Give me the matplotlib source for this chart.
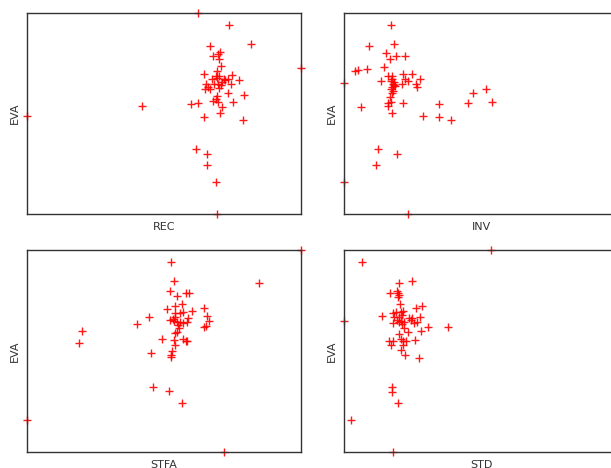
import matplotlib
matplotlib.use("Agg")
import matplotlib.pyplot as plt

# values (arbitrary units, EVA on y)
rec = [2.02, 2.24, 1.83, 1.86, 1.91, 1.93, 1.92, 1.94, 1.90, 1.77, 1.89, 1.92, 2.05, 2.12,
       2.01, 1.98, 1.95, 1.91, 1.87, 2.04, 1.79, 1.81, 1.94, 1.92, 1.78, 1.83, 2.01, 2.17,
       1.90, 1.86, 1.91, 1.89, 2.06, 1.64, 1.71, 1.15, 1.95, 1.93, 1.77, 2.16, 1.69, 1.80,
       1.80, 1.89, 1.97, 1.90, 1.85, 1.71, 2.74, 0.00, 1.90]
eva_rec = [1.89, 1.70, 1.68, 1.58, 1.60, 1.62, 1.55, 1.48, 1.43, 1.40, 1.38, 1.38, 1.39, 1.34,
           1.35, 1.34, 1.32, 1.30, 1.30, 1.30, 1.30, 1.27, 1.29, 1.26, 1.25, 1.25, 1.21, 1.19,
           1.18, 1.13, 1.12, 1.15, 1.12, 1.10, 1.11, 1.08, 1.07, 1.01, 0.97, 0.94, 0.65, 0.60,
           0.49, 0.32, 1.35, 1.36, 1.35, 2.01, 1.46, 0.98, 0.00]

inv = [0.47, 0.50, 0.25, 0.42, 0.52, 0.61, 0.46, 0.40, 0.11, 0.14, 0.23, 0.44, 0.48, 0.48,
       0.50, 0.50, 0.48, 0.47, 0.48, 0.46, 0.47, 0.44, 0.44, 0.59, 0.61, 0.64, 0.68, 0.76,
       0.72, 0.73, 0.58, 0.37, 0.17, 0.59, 0.48, 0.79, 0.95, 0.95, 1.07, 1.24, 1.29, 1.42,
       1.48, 0.34, 0.53, 0.32, 0.49, 0.51, 0.47, 0.49, 0.00, 0.00, 0.64]
eva_inv = [1.89, 1.70, 1.68, 1.61, 1.58, 1.58, 1.55, 1.47, 1.43, 1.44, 1.45, 1.38, 1.38, 1.35,
           1.32, 1.29, 1.27, 1.25, 1.21, 1.17, 1.12, 1.11, 1.08, 1.40, 1.35, 1.33, 1.40, 1.35,
           1.30, 1.27, 1.30, 1.33, 1.07, 1.11, 1.01, 0.98, 1.10, 0.97, 0.94, 1.11, 1.21, 1.25,
           1.12, 0.65, 0.60, 0.49, 1.30, 1.28, 1.33, 1.23, 1.31, 0.32, 0.00]

stfa = [1.44, 2.32, 1.47, 1.43, 1.50, 1.59, 1.62, 1.55, 1.48, 1.40, 1.77, 1.65, 1.48, 1.53,
        1.56, 1.80, 1.82, 1.79, 1.77, 1.22, 1.10, 1.61, 1.43, 1.47, 1.50, 1.53, 1.56, 1.51,
        1.60, 1.48, 1.46, 1.52, 1.50, 1.48, 0.55, 0.52, 1.35, 1.47, 1.56, 1.59, 1.60, 1.48,
        1.24, 1.45, 1.44, 1.44, 1.26, 1.42, 1.55, 2.74, 0.00, 1.97]
eva_stfa = [1.90, 1.69, 1.71, 1.61, 1.56, 1.59, 1.59, 1.48, 1.46, 1.43, 1.44, 1.41, 1.39, 1.39,
            1.40, 1.36, 1.31, 1.26, 1.25, 1.35, 1.28, 1.34, 1.32, 1.31, 1.30, 1.30, 1.29, 1.27,
            1.30, 1.35, 1.33, 1.24, 1.20, 1.19, 1.21, 1.09, 1.13, 1.12, 1.13, 1.11, 1.11, 1.07,
            0.99, 1.01, 0.97, 0.95, 0.65, 0.61, 0.49, 2.02, 0.32, 0.00]

std = [0.18, 0.68, 0.55, 0.46, 0.53, 0.54, 0.55, 0.54, 0.56, 0.72, 0.78, 0.38, 0.49, 0.52,
       0.57, 0.59, 0.50, 0.55, 0.58, 0.53, 0.57, 0.60, 0.49, 0.55, 0.58, 0.65, 0.68, 0.67,
       0.70, 0.73, 0.76, 0.60, 0.64, 0.84, 0.77, 1.04, 0.55, 0.71, 0.45, 0.49, 0.47, 0.57,
       0.59, 0.62, 0.59, 0.57, 0.61, 0.75, 0.48, 0.48, 0.54, 0.07, 1.47, 0.00, 0.49]
eva_std = [1.90, 1.71, 1.69, 1.59, 1.61, 1.59, 1.57, 1.55, 1.48, 1.44, 1.46, 1.36, 1.39, 1.40,
           1.40, 1.41, 1.35, 1.35, 1.37, 1.32, 1.31, 1.30, 1.29, 1.30, 1.28, 1.34, 1.34, 1.32,
           1.29, 1.30, 1.35, 1.24, 1.20, 1.25, 1.21, 1.25, 1.18, 1.12, 1.11, 1.11, 1.07, 1.13,
           1.11, 1.11, 1.07, 1.02, 0.97, 0.94, 0.65, 0.60, 0.49, 0.32, 2.02, 1.31, 0.00]

x_names = ["REC", "INV", "STFA", "STD"]
x_data = [rec, inv, stfa, std]
y_data = [eva_rec, eva_inv, eva_stfa, eva_std]
x_max = 2.74
y_max = [2.01, 2.01, 2.02, 2.02]

fig = plt.figure(figsize=(6.11, 4.68), dpi=100)
W, H = 611, 468
boxes = [(27, 13, 274, 201), (344, 13, 274, 201), (27, 250, 274, 202), (344, 250, 274, 202)]

for (px, py, pw, ph), name, xs, ys, ym in zip(boxes, x_names, x_data, y_data, y_max):
    ax = fig.add_axes([px / W, 1 - (py + ph) / H, pw / W, ph / H])
    ax.plot(xs, ys, linestyle="none", marker="+", color="red", markersize=5.5,
            markeredgewidth=1.0, alpha=0.9, clip_on=False, zorder=1)
    ax.set_xlim(0, x_max)
    ax.set_ylim(0, ym)
    ax.set_xticks([])
    ax.set_yticks([])
    for sp in ax.spines.values():
        sp.set_color("#333333")
        sp.set_linewidth(1.0)
        sp.set_zorder(3)
    ax.set_xlabel(name, fontsize=8, color="#333333", labelpad=6)
    ax.set_ylabel("EVA", fontsize=8, color="#333333", labelpad=5)

fig.savefig("out.png", dpi=100)
